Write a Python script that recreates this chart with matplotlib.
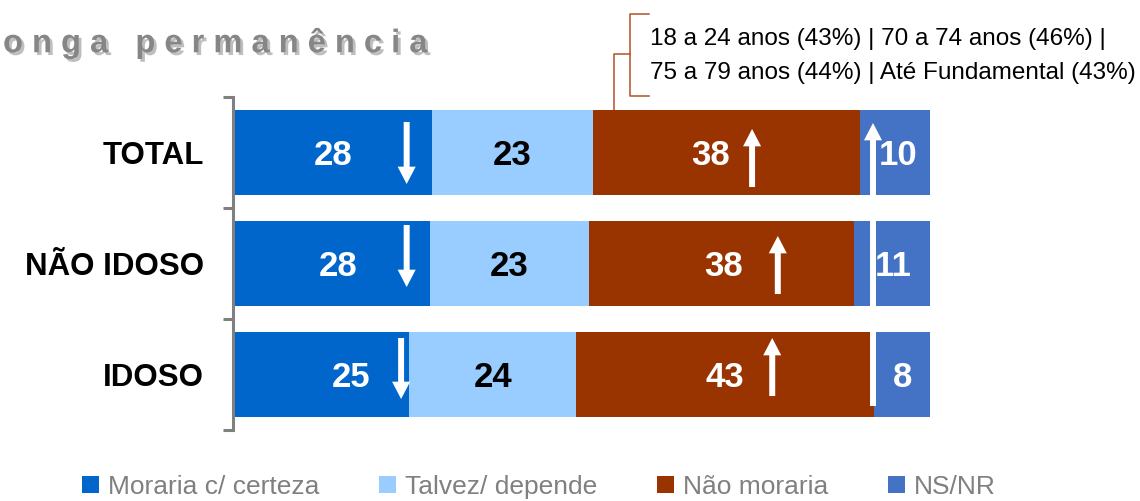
import numpy as np
import matplotlib
matplotlib.use("Agg")
import matplotlib.pyplot as plt
import matplotlib.patheffects as pe
from matplotlib.patches import Patch

plt.rcParams['font.family'] = ['Liberation Sans', 'DejaVu Sans']

# Data
groups = ["TOTAL", "NÃO IDOSO", "IDOSO"]
series = ["Moraria c/ certeza", "Talvez/ depende", "Não moraria", "NS/NR"]
moraria = [28, 28, 25]
talvez = [23, 23, 24]
nao_moraria = [38, 38, 43]
ns_nr = [10, 11, 8]
note_lines = ["18 a 24 anos (43%) | 70 a 74 anos (46%) |",
              "75 a 79 anos (44%) | Até Fundamental (43%)"]
title_text = "onga permanência"

colors = ["#0066CC", "#99CCFF", "#993300", "#4472C4"]
label_colors = ["white", "black", "white", "white"]
# small horizontal nudges of the value labels (pixels)
label_shift = [[0, 0, -16, 3], [6, 0, 2, 1], [29, 1, 0, 0]]

W, H = 1140, 501
fig = plt.figure(figsize=(W / 100, H / 100), dpi=100)

# main axes: x 235..930 px, y 97..430 px
ax = fig.add_axes([235 / W, 1 - 430 / H, 695 / W, 333 / H])
ax.patch.set_visible(False)
vals = np.array([moraria, talvez, nao_moraria, ns_nr], dtype=float).T
shares = vals / vals.sum(axis=1, keepdims=True) * 100
y = np.arange(len(groups))

left = np.zeros(len(groups))
for j in range(len(series)):
    ax.barh(y, shares[:, j], left=left, height=0.757, color=colors[j],
            label=series[j], zorder=2)
    for i in range(len(groups)):
        cx = left[i] + shares[i, j] / 2
        ax.annotate(f"{vals[i, j]:.0f}", (cx, y[i]),
                    xytext=(label_shift[i][j] * 0.72, -2), textcoords="offset points",
                    ha="center", va="center", fontsize=25, fontweight="bold",
                    color=label_colors[j], zorder=5)
    left += shares[:, j]

ax.set_xlim(0, 100)
ax.set_ylim(2.5, -0.5)
ax.xaxis.set_visible(False)
for s in ["top", "right", "bottom"]:
    ax.spines[s].set_visible(False)
ax.spines["left"].set_color("#808080")
ax.spines["left"].set_linewidth(2.2)
ax.spines["left"].set_position(("outward", 1.4))
ax.set_yticks([-0.5, 0.5, 1.5, 2.5])
ax.set_yticklabels([])
ax.tick_params(axis="y", which="major", length=7.2, width=2.2, color="#808080")
ax.set_yticks(y, minor=True)
ax.set_yticklabels(groups, minor=True, fontsize=22.5, fontweight="bold")
ax.tick_params(axis="y", which="minor", length=0, pad=21)


def arrow(x, y0, y1):
    ax.annotate("", xy=(x, y1), xytext=(x, y0),
                arrowprops=dict(arrowstyle="simple,head_length=12.5,head_width=13,tail_width=4.3",
                                mutation_scale=1, color="white", lw=0,
                                shrinkA=0, shrinkB=0), zorder=4)


# down arrows on "Moraria c/ certeza"
arrow(24.7, -0.275, 0.284)
arrow(24.7, 0.653, 1.212)
arrow(23.9, 1.671, 2.221)
# up arrows on "Não moraria"
arrow(74.4, 0.311, -0.212)
arrow(78.1, 1.275, 0.752)
arrow(77.3, 2.194, 1.671)
# long up arrow
arrow(91.8, 2.284, -0.266)

# overlay in pixel coordinates for title and note
ov = fig.add_axes([0, 0, 1, 1], zorder=-1)
ov.set_xlim(0, W)
ov.set_ylim(H, 0)
ov.axis("off")

spaced = "   ".join(" ".join(w) for w in title_text.split(" "))
ov.text(3, 43, spaced, fontsize=23.5, fontweight="bold", color="#868686",
        va="center", ha="left",
        path_effects=[pe.withSimplePatchShadow(offset=(2, -2), shadow_rgbFace="#707070", alpha=0.45)])

bc = "#B0522A"
ov.plot([649, 630, 630, 649], [14, 14, 96, 96], color=bc, lw=1.1)
ov.plot([630, 614, 614], [54, 54, 112], color=bc, lw=1.1)
ov.text(650, 39, note_lines[0], fontsize=17.5, va="center", ha="left", color="black")
ov.text(650, 73, note_lines[1], fontsize=17.5, va="center", ha="left", color="black")

handles = [Patch(facecolor=c, edgecolor="none") for c in colors]
fig.legend(handles, series, loc="center left", bbox_to_anchor=(82 / W, 1 - 487 / H),
           ncol=4, frameon=False, fontsize=19, labelcolor="#808080",
           handlelength=0.64, handleheight=0.62, handletextpad=0.34,
           columnspacing=2.27, borderpad=0, borderaxespad=0)

fig.savefig("out.png", dpi=100)
